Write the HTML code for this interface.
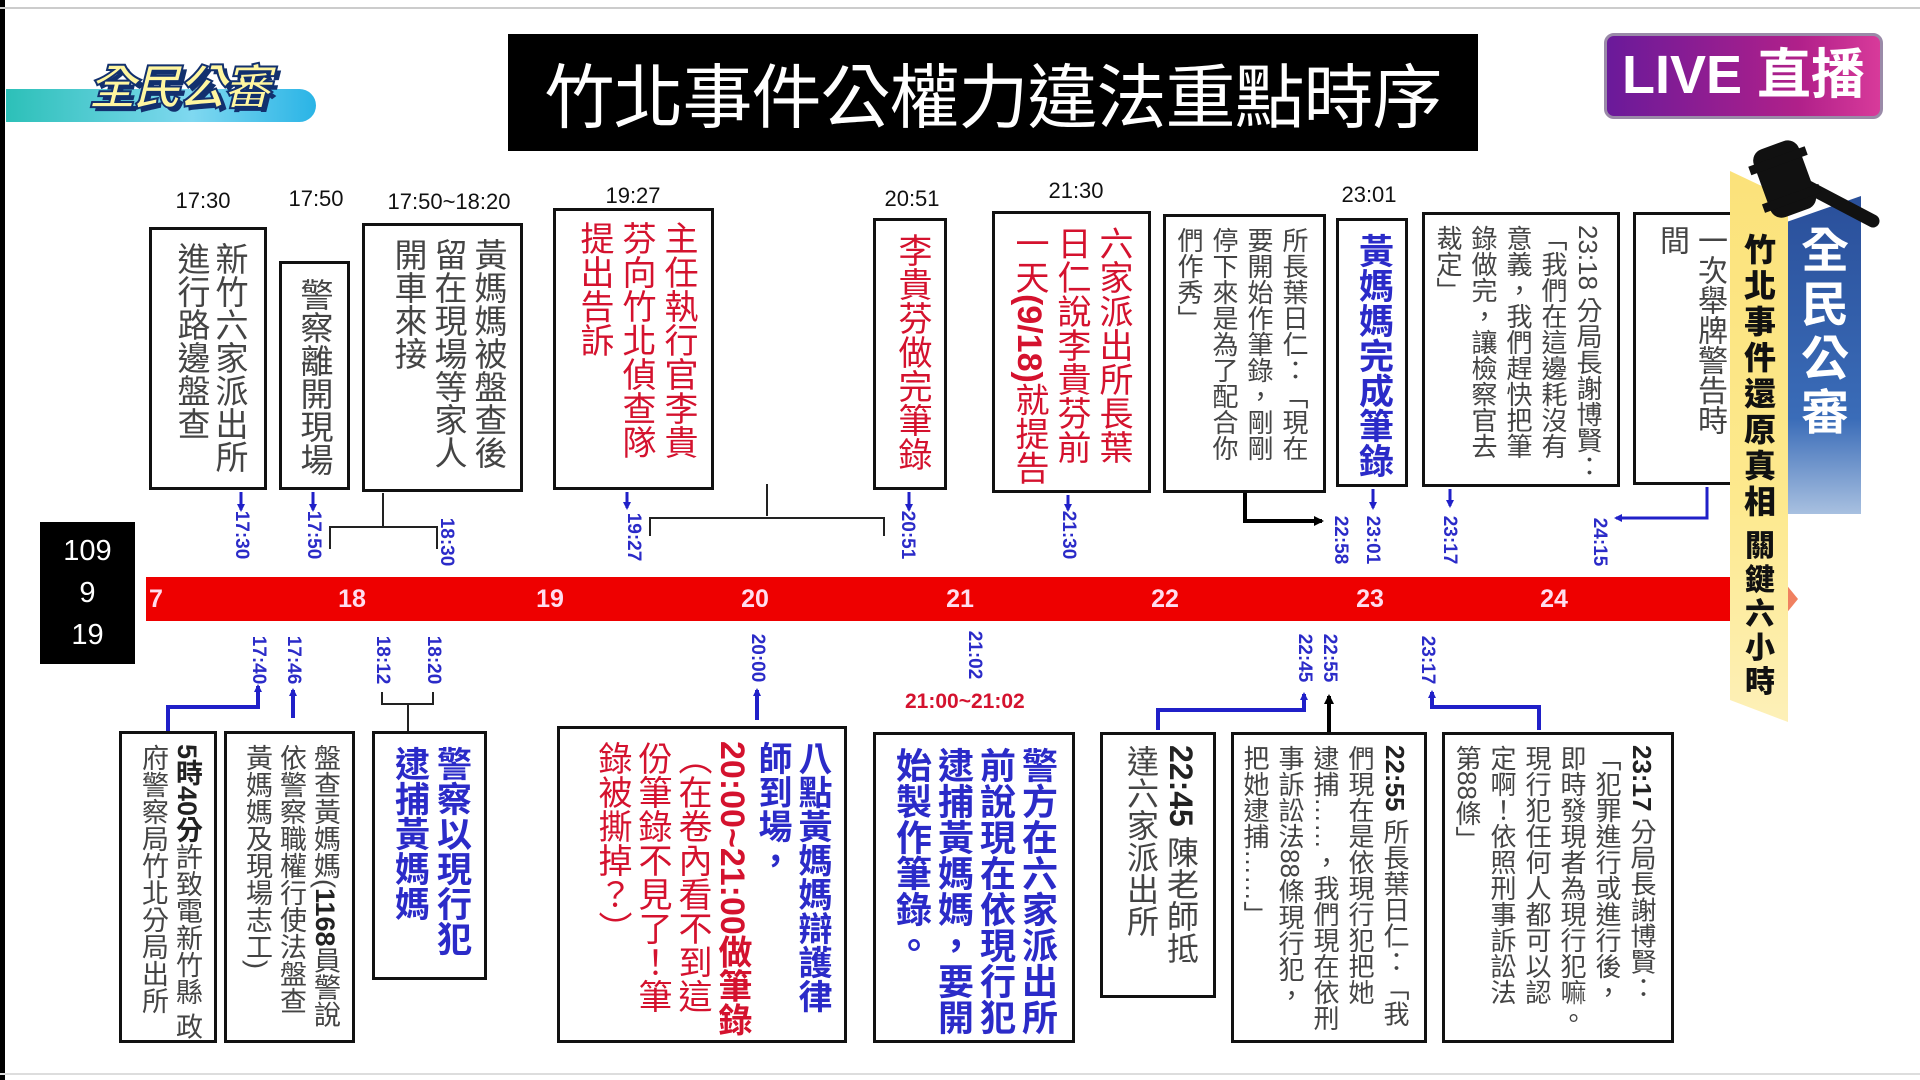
<!DOCTYPE html>
<html><head><meta charset="utf-8">
<style>
html,body{margin:0;padding:0;}
body{width:1920px;height:1080px;position:relative;overflow:hidden;background:#fff;font-family:"Liberation Sans","Noto Sans CJK TC",sans-serif;}
.a{position:absolute;}
.b{position:absolute;border:3px solid #111;writing-mode:vertical-rl;box-sizing:border-box;padding:12px 16px;overflow:hidden;white-space:nowrap;}
.g{color:#444;}
.r{color:#d4122e;}
.bl{color:#2b2bc8;font-weight:bold;}
.t{position:absolute;font-size:22px;color:#111;transform:translateX(-50%);white-space:nowrap;}
.v{position:absolute;font-size:19px;font-weight:bold;color:#2b2bc8;transform:translate(-50%,-50%) rotate(90deg);white-space:nowrap;}
.h{position:absolute;top:585px;font-size:25px;color:#fde;font-weight:bold;transform:translateX(-50%);}
</style></head><body>
<div class="a" style="left:0;top:0;width:5px;height:1080px;background:#000"></div>
<div class="a" style="left:0;top:7px;width:1920px;height:2px;background:#ccc"></div>
<div class="a" style="left:0;top:1073px;width:1920px;height:2px;background:#ddd"></div>

<!-- logo -->
<div class="a" style="left:6px;top:89px;width:310px;height:33px;border-radius:0 17px 17px 0;background:linear-gradient(90deg,#2cc0b8,#7fd8f0 60%,#2ab4e6)"></div>
<div class="a" style="left:88px;top:48px;font-size:48px;font-weight:bold;font-style:italic;color:#fff6a0;-webkit-text-stroke:2px #12306e;text-shadow:4px 4px 0 #12306e;letter-spacing:-3px">全民公審</div>

<!-- title -->
<div class="a" style="left:508px;top:34px;width:970px;height:117px;background:#000;color:#fff;font-size:70px;line-height:117px;text-align:center;font-family:'Noto Sans CJK TC',sans-serif;letter-spacing:-1px">竹北事件公權力違法重點時序</div>

<!-- LIVE -->
<div class="a" style="left:1604px;top:33px;width:279px;height:86px;border-radius:10px;background:linear-gradient(90deg,#6a1a9a,#b0208a 70%,#d83a9a);border:3px solid #9a8aa8;box-sizing:border-box;color:#fff;font-size:54px;font-weight:bold;line-height:78px;text-align:center">LIVE 直播</div>

<!-- date box -->
<div class="a" style="left:40px;top:522px;width:95px;height:142px;background:#000;color:#fff;font-size:29px;line-height:42px;text-align:center;padding-top:8px;box-sizing:border-box">109<br>9<br>19</div>

<!-- red bar -->
<div class="a" style="left:146px;top:577px;width:1640px;height:44px;background:#ee0000"></div>
<div class="a" style="left:1780px;top:577px;width:0;height:0;border-top:22px solid transparent;border-bottom:22px solid transparent;border-left:18px solid #f08060"></div>
<div class="h" style="left:156px">7</div>
<div class="h" style="left:352px">18</div>
<div class="h" style="left:550px">19</div>
<div class="h" style="left:755px">20</div>
<div class="h" style="left:960px">21</div>
<div class="h" style="left:1165px">22</div>
<div class="h" style="left:1370px">23</div>
<div class="h" style="left:1554px">24</div>

<!-- top time labels -->
<div class="t" style="left:203px;top:188px">17:30</div>
<div class="t" style="left:316px;top:186px">17:50</div>
<div class="t" style="left:449px;top:189px">17:50~18:20</div>
<div class="t" style="left:633px;top:183px">19:27</div>
<div class="t" style="left:912px;top:186px">20:51</div>
<div class="t" style="left:1076px;top:178px">21:30</div>
<div class="t" style="left:1369px;top:182px">23:01</div>

<!-- top boxes -->
<div class="b g" style="left:149px;top:227px;width:118px;height:263px;font-size:33px;line-height:38px">新竹六家派出所<br>進行路邊盤查</div>
<div class="b g" style="left:279px;top:261px;width:71px;height:229px;font-size:33px;line-height:38px;padding:14px 14px">警察離開現場</div>
<div class="b g" style="left:362px;top:223px;width:161px;height:269px;font-size:33px;line-height:40px;padding:12px 12px">黃媽媽被盤查後<br>留在現場等家人<br>開車來接</div>
<div class="b r" style="left:553px;top:208px;width:161px;height:282px;font-size:34px;line-height:42px;padding:10px 12px">主任執行官李貴<br>芬向竹北偵查隊<br>提出告訴</div>
<div class="b r" style="left:873px;top:218px;width:74px;height:272px;font-size:34px;line-height:40px;padding:12px 12px">李貴芬做完筆錄</div>
<div class="b r" style="left:992px;top:211px;width:159px;height:282px;font-size:34px;line-height:42px;padding:12px 14px">六家派出所長葉<br>日仁說李貴芬前<br>一天<b>(9/18)</b>就提告</div>
<div class="b g" style="left:1163px;top:214px;width:163px;height:279px;font-size:26px;line-height:35px;padding:10px 12px">所長葉日仁：「現在<br>要開始作筆錄，剛剛<br>停下來是為了配合你<br>們作秀」</div>
<div class="b bl" style="left:1336px;top:218px;width:72px;height:269px;font-size:35px;line-height:40px;padding:12px 12px">黃媽媽完成筆錄</div>
<div class="b g" style="left:1422px;top:212px;width:198px;height:275px;font-size:26px;line-height:35px;padding:10px 12px">23:18 分局長謝博賢：<br>「我們在這邊耗沒有<br>意義，我們趕快把筆<br>錄做完，讓檢察官去<br>裁定」</div>
<div class="b g" style="left:1633px;top:212px;width:110px;height:273px;font-size:30px;line-height:38px;padding:10px 12px">一次舉牌警告時<br>間</div>

<!-- top rotated labels -->
<div class="v" style="left:241px;top:535px">17:30</div>
<div class="v" style="left:313px;top:535px">17:50</div>
<div class="v" style="left:446px;top:542px">18:30</div>
<div class="v" style="left:633px;top:537px">19:27</div>
<div class="v" style="left:907px;top:535px">20:51</div>
<div class="v" style="left:1068px;top:535px">21:30</div>
<div class="v" style="left:1340px;top:540px">22:58</div>
<div class="v" style="left:1372px;top:540px">23:01</div>
<div class="v" style="left:1449px;top:540px">23:17</div>
<div class="v" style="left:1599px;top:542px">24:15</div>

<!-- bottom rotated labels -->
<div class="v" style="left:258px;top:660px">17:40</div>
<div class="v" style="left:293px;top:660px">17:46</div>
<div class="v" style="left:382px;top:660px">18:12</div>
<div class="v" style="left:433px;top:660px">18:20</div>
<div class="v" style="left:757px;top:658px">20:00</div>
<div class="v" style="left:974px;top:655px">21:02</div>
<div class="v" style="left:1304px;top:658px">22:45</div>
<div class="v" style="left:1329px;top:658px">22:55</div>
<div class="v" style="left:1427px;top:660px">23:17</div>
<div class="a" style="left:905px;top:690px;font-size:21px;font-weight:bold;color:#d4122e">21:00~21:02</div>

<!-- bottom boxes -->
<div class="b g" style="left:119px;top:731px;width:98px;height:312px;font-size:27px;line-height:34px;padding:10px 10px"><b style="color:#222">5時40分</b>許致電新竹縣 政<br>府警察局竹北分局出所</div>
<div class="b g" style="left:224px;top:731px;width:131px;height:312px;font-size:27px;line-height:34px;padding:10px 10px">盤查黃媽媽(<b style="color:#222">1168</b>員警說<br>依警察職權行使法盤查<br>黃媽媽及現場志工)</div>
<div class="b bl" style="left:372px;top:731px;width:115px;height:249px;font-size:35px;line-height:42px;padding:12px 12px">警察以現行犯<br>逮捕黃媽媽</div>
<div class="b" style="left:557px;top:726px;width:290px;height:317px;font-size:34px;line-height:40px;padding:12px 12px"><span class="bl">八點黃媽媽辯護律<br>師到場，</span><br><span style="color:#d4122e;font-weight:bold">20:00~21:00做筆錄</span><br><span style="color:#d4122e">（在卷內看不到這<br>份筆錄不見了！筆<br>錄被撕掉？）</span></div>
<div class="b bl" style="left:873px;top:732px;width:202px;height:311px;font-size:36px;line-height:42px;padding:12px 14px">警方在六家派出所<br>前說現在依現行犯<br>逮捕黃媽媽，要開<br>始製作筆錄。</div>
<div class="b g" style="left:1100px;top:732px;width:116px;height:266px;font-size:32px;line-height:40px;padding:10px 12px"><b style="color:#222">22:45</b> 陳老師抵<br>達六家派出所</div>
<div class="b g" style="left:1231px;top:732px;width:196px;height:311px;font-size:26px;line-height:35px;padding:10px 12px"><b style="color:#222">22:55</b> 所長葉日仁：「我<br>們現在是依現行犯把她<br>逮捕……，我們現在依刑<br>事訴訟法88條現行犯，<br>把她逮捕……」</div>
<div class="b g" style="left:1442px;top:732px;width:232px;height:311px;font-size:26px;line-height:35px;padding:10px 12px"><b style="color:#222">23:17</b> 分局長謝博賢：<br>「犯罪進行或進行後，<br>即時發現者為現行犯嘛。<br>現行犯任何人都可以認<br>定啊！依照刑事訴訟法<br>第88條」</div>

<!-- connectors -->
<svg class="a" style="left:0;top:0" width="1920" height="1080">
<defs>
<marker id="ab" markerWidth="8" markerHeight="8" refX="6" refY="4" orient="auto" markerUnits="userSpaceOnUse"><path d="M0,0 L8,4 L0,8 z" fill="#2020c8"/></marker>
<marker id="ak" markerWidth="10" markerHeight="10" refX="8" refY="5" orient="auto" markerUnits="userSpaceOnUse"><path d="M0,0 L10,5 L0,10 z" fill="#000"/></marker>
</defs>
<g stroke="#2020c8" stroke-width="3" fill="none" marker-end="url(#ab)">
<line x1="241" y1="492" x2="241" y2="510"/>
<line x1="313" y1="492" x2="313" y2="510"/>
<line x1="627" y1="492" x2="627" y2="508"/>
<line x1="909" y1="492" x2="909" y2="510"/>
<line x1="1068" y1="495" x2="1068" y2="510"/>
<line x1="1373" y1="489" x2="1373" y2="508"/>
<line x1="1450" y1="489" x2="1450" y2="506"/>
<polyline points="1707,487 1707,518 1616,518"/>
<polyline points="168,731 168,707 258,707 258,686" stroke-width="4"/>
<line x1="293" y1="718" x2="293" y2="690" stroke-width="4"/>
<line x1="757" y1="720" x2="757" y2="690" stroke-width="4"/>
<polyline points="1158,730 1158,710 1304,710 1304,694" stroke-width="4"/>
<polyline points="1539,730 1539,707 1432,707 1432,692" stroke-width="4"/>
</g>
<g stroke="#222" stroke-width="2" fill="none">
<polyline points="383,493 383,527"/>
<polyline points="330,549 330,527 437,527 437,549"/>
<polyline points="767,484 767,516"/>
<polyline points="650,536 650,518 884,518 884,536"/>
<polyline points="382,692 382,704 433,704 433,692"/>
<line x1="408" y1="704" x2="408" y2="731"/>
</g>
<polyline points="1245,493 1245,521 1322,521" stroke="#000" stroke-width="4" fill="none" marker-end="url(#ak)"/>
<line x1="1329" y1="732" x2="1329" y2="696" stroke="#000" stroke-width="4" marker-end="url(#ak)"/>
</svg>

<!-- right banners -->
<div class="a" style="left:1788px;top:196px;width:73px;height:318px;background:linear-gradient(180deg,#2a4f9a,#3a6cb8 70%,#a8c0e0);clip-path:polygon(0 8%,100% 0,100% 100%,0 100%)"></div>
<div class="a" style="left:1797px;top:225px;width:56px;font-size:48px;font-weight:bold;color:#fff;line-height:54px;text-align:center">全<br>民<br>公<br>審</div>
<div class="a" style="left:1730px;top:171px;width:58px;height:551px;background:linear-gradient(180deg,#fbe27a,#fde98e 60%,#fdf0b8);clip-path:polygon(0 0,100% 5%,100% 100%,0 96%)"></div>
<div class="a" style="left:1740px;top:232px;width:40px;font-size:32px;font-weight:900;color:#111;line-height:36px;text-align:center">竹<br>北<br>事<br>件<br>還<br>原<br>真<br>相</div>
<div class="a" style="left:1740px;top:530px;width:40px;font-size:30px;font-weight:900;color:#111;line-height:34px;text-align:center">關<br>鍵<br>六<br>小<br>時</div>
<!-- gavel -->
<svg class="a" style="left:1735px;top:135px" width="150" height="120">
<line x1="60" y1="45" x2="138" y2="86" stroke="#111" stroke-width="13" stroke-linecap="round"/>
<g transform="rotate(-20 50 45)"><rect x="26" y="8" width="48" height="72" rx="12" fill="#111"/><rect x="20" y="20" width="60" height="9" fill="#111"/><rect x="20" y="60" width="60" height="9" fill="#111"/></g>
</svg>
</body></html>
